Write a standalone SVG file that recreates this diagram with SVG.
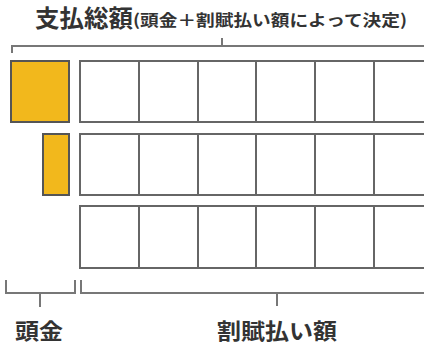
<svg xmlns="http://www.w3.org/2000/svg" width="424" height="347" viewBox="0 0 424 347">
<style>
.cell{fill:#fff;stroke:#666;stroke-width:2}
.pay{fill:#F2B81C;stroke:#555;stroke-width:2}
.br{fill:none;stroke:#777;stroke-width:2}
.t{font-family:"Noto Sans CJK JP","Noto Sans CJK SC",sans-serif;font-weight:bold;fill:#333}
</style>
<rect width="424" height="347" fill="#fff"/>
<g id="title">
<text class="t" x="35" y="27" font-size="24" textLength="98" lengthAdjust="spacingAndGlyphs">支払総額</text>
<text class="t" x="133" y="26" font-size="16" textLength="274" lengthAdjust="spacingAndGlyphs">(頭金＋割賦払い額によって決定)</text>
</g>
<g id="connectors">
<path class="br" d="M12,53 V46 H424 M222,38 V46"/>
<path class="br" d="M6,280 V293 H75 V280 M40,293 V307"/>
<path class="br" d="M81,280 V293 H424 M277,293 V306"/>
</g>
<g id="downpayment1"><rect class="pay" x="11" y="61" width="58" height="61"/></g>
<g id="downpayment2"><rect class="pay" x="43" y="134" width="26" height="61"/></g>
<g id="row1">
<rect class="cell" x="80" y="61" width="59" height="61"/>
<rect class="cell" x="139" y="61" width="59" height="61"/>
<rect class="cell" x="198" y="61" width="58" height="61"/>
<rect class="cell" x="256" y="61" width="59" height="61"/>
<rect class="cell" x="315" y="61" width="59" height="61"/>
<rect class="cell" x="374" y="61" width="60" height="61"/>
</g>
<g id="row2">
<rect class="cell" x="80" y="134" width="59" height="61"/>
<rect class="cell" x="139" y="134" width="59" height="61"/>
<rect class="cell" x="198" y="134" width="58" height="61"/>
<rect class="cell" x="256" y="134" width="59" height="61"/>
<rect class="cell" x="315" y="134" width="59" height="61"/>
<rect class="cell" x="374" y="134" width="60" height="61"/>
</g>
<g id="row3">
<rect class="cell" x="80" y="206" width="59" height="62"/>
<rect class="cell" x="139" y="206" width="59" height="62"/>
<rect class="cell" x="198" y="206" width="58" height="62"/>
<rect class="cell" x="256" y="206" width="59" height="62"/>
<rect class="cell" x="315" y="206" width="59" height="62"/>
<rect class="cell" x="374" y="206" width="60" height="62"/>
</g>
<g id="labels">
<text class="t" x="15" y="339" font-size="22" textLength="48" lengthAdjust="spacingAndGlyphs">頭金</text>
<text class="t" x="217" y="339" font-size="22" textLength="120" lengthAdjust="spacingAndGlyphs">割賦払い額</text>
</g>
</svg>
